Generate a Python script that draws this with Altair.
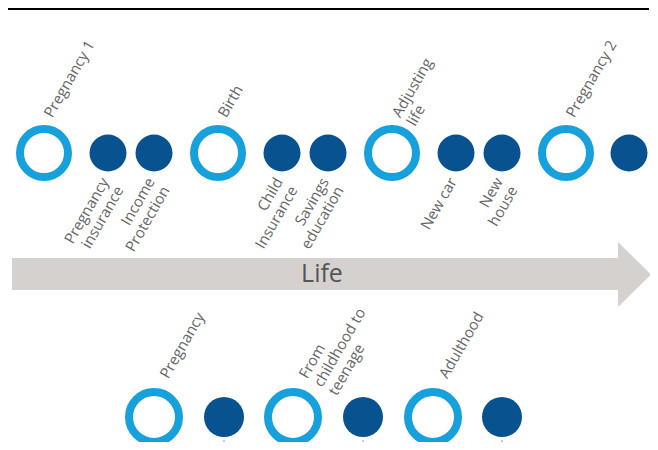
import altair as alt
import pandas as pd

# ---- data ----
top_x = [44, 108, 154, 218, 282, 328, 392, 456, 502, 566, 629]
top_kind = ["ring", "dot", "dot", "ring", "dot", "dot", "ring", "dot", "dot", "ring", "dot"]
top_label = ["Pregnancy  1", "Pregnancy\ninsurance", "Income\nProtection", "Birth",
             "Child\nInsurance", "Savings\neducation", "Adjusting\nlife", "New  car",
             "New\nhouse", "Pregnancy  2", ""]
top_row_y = 153

bot_x = [154, 224, 293, 363, 433, 502]
bot_kind = ["ring", "dot", "ring", "dot", "ring", "dot"]
bot_label = ["Pregnancy", "", "From\nchildhood to\nteenage", "", "Adulthood", ""]
bot_row_y = 417

arrow_band = {"x": [12], "x2": [618], "y": [258], "y2": [290]}
arrow_head = {"x": [618, 651], "y": [242, 274.5], "y2": [307, 274.5]}
arrow_text = "Life"
top_line = {"x": [8], "x2": [649], "y": [8], "y2": [10]}

W, H = 642, 434
XS = alt.Scale(domain=[8, 650], range=[0, W], nice=False, zero=False)
YS = alt.Scale(domain=[8, 442], range=[0, H], nice=False, zero=False)

RING = "#16a0dc"
DOT = "#07528f"
TXT = "#666666"
FONT = "Open Sans"

top = pd.DataFrame({"x": top_x, "kind": top_kind, "label": top_label})
top["y"] = top_row_y
bot = pd.DataFrame({"x": bot_x, "kind": bot_kind, "label": bot_label})
bot["y"] = bot_row_y


def X(f="x"):
    return alt.X(f"{f}:Q", scale=XS, axis=None)


def Y(f="y"):
    return alt.Y(f"{f}:Q", scale=YS, axis=None)


line = alt.Chart(pd.DataFrame(top_line)).mark_rect(color="#000000").encode(
    x=X(), x2="x2:Q", y=Y(), y2="y2:Q")

band = alt.Chart(pd.DataFrame(arrow_band)).mark_rect(color="#d5d1ce").encode(
    x=X(), x2="x2:Q", y=Y(), y2="y2:Q")

head = alt.Chart(pd.DataFrame(arrow_head)).mark_area(color="#d5d1ce", orient="vertical").encode(
    x=X(), y=Y(), y2="y2:Q")

life = alt.Chart(pd.DataFrame({"x": [322], "y": [274], "t": [arrow_text]})).mark_text(
    font=FONT, fontSize=25, color="#555555", baseline="middle", align="center").encode(
    x=X(), y=Y(), text="t:N")

top_rings = alt.Chart(top).transform_filter("datum.kind == 'ring'").mark_point(
    shape="circle", filled=False, stroke=RING, strokeWidth=8, size=2304, opacity=1).encode(
    x=X(), y=Y())
top_dots = alt.Chart(top).transform_filter("datum.kind == 'dot'").mark_circle(
    color=DOT, size=1369, opacity=1).encode(x=X(), y=Y())

bot_rings = alt.Chart(bot).transform_filter("datum.kind == 'ring'").mark_point(
    shape="circle", filled=False, stroke=RING, strokeWidth=8, size=2500, opacity=1).encode(
    x=X(), y=Y())
bot_dots = alt.Chart(bot).transform_filter("datum.kind == 'dot'").mark_circle(
    color=DOT, size=1600, opacity=1).encode(x=X(), y=Y())
bot_specks = alt.Chart(bot).transform_filter("datum.kind == 'dot'").transform_calculate(
    ys="datum.y + 24").mark_circle(color="#9a9a9a", size=3, opacity=1).encode(x=X(), y=Y("ys"))

lab_kw = dict(font=FONT, fontSize=15, fontWeight=400, color=TXT, angle=300,
              lineBreak="\n", lineHeight=17, baseline="middle")

top_ring_lab = alt.Chart(top).transform_filter("datum.kind == 'ring'").transform_calculate(
    lx="datum.x + 4", ly="datum.y - 37").mark_text(align="left", **lab_kw).encode(
    x=X("lx"), y=Y("ly"), text="label:N")
top_dot_lab = alt.Chart(top).transform_filter("datum.kind == 'dot'").transform_calculate(
    lx="datum.x - 3", ly="datum.y + 26").mark_text(align="right", **lab_kw).encode(
    x=X("lx"), y=Y("ly"), text="label:N")
bot_ring_lab = alt.Chart(bot).transform_filter("datum.kind == 'ring'").transform_calculate(
    lx="datum.x + 10", ly="datum.y - 40").mark_text(align="left", **lab_kw).encode(
    x=X("lx"), y=Y("ly"), text="label:N")

chart = alt.layer(
    line, band, head, life,
    top_rings, top_dots, bot_rings, bot_dots, bot_specks,
    top_ring_lab, top_dot_lab, bot_ring_lab,
).properties(
    width=W, height=H, autosize=alt.AutoSizeParams(type="none"), padding=0
).configure_view(stroke=None)

chart.save("out.html", embed_options={"renderer": "svg", "actions": False})
